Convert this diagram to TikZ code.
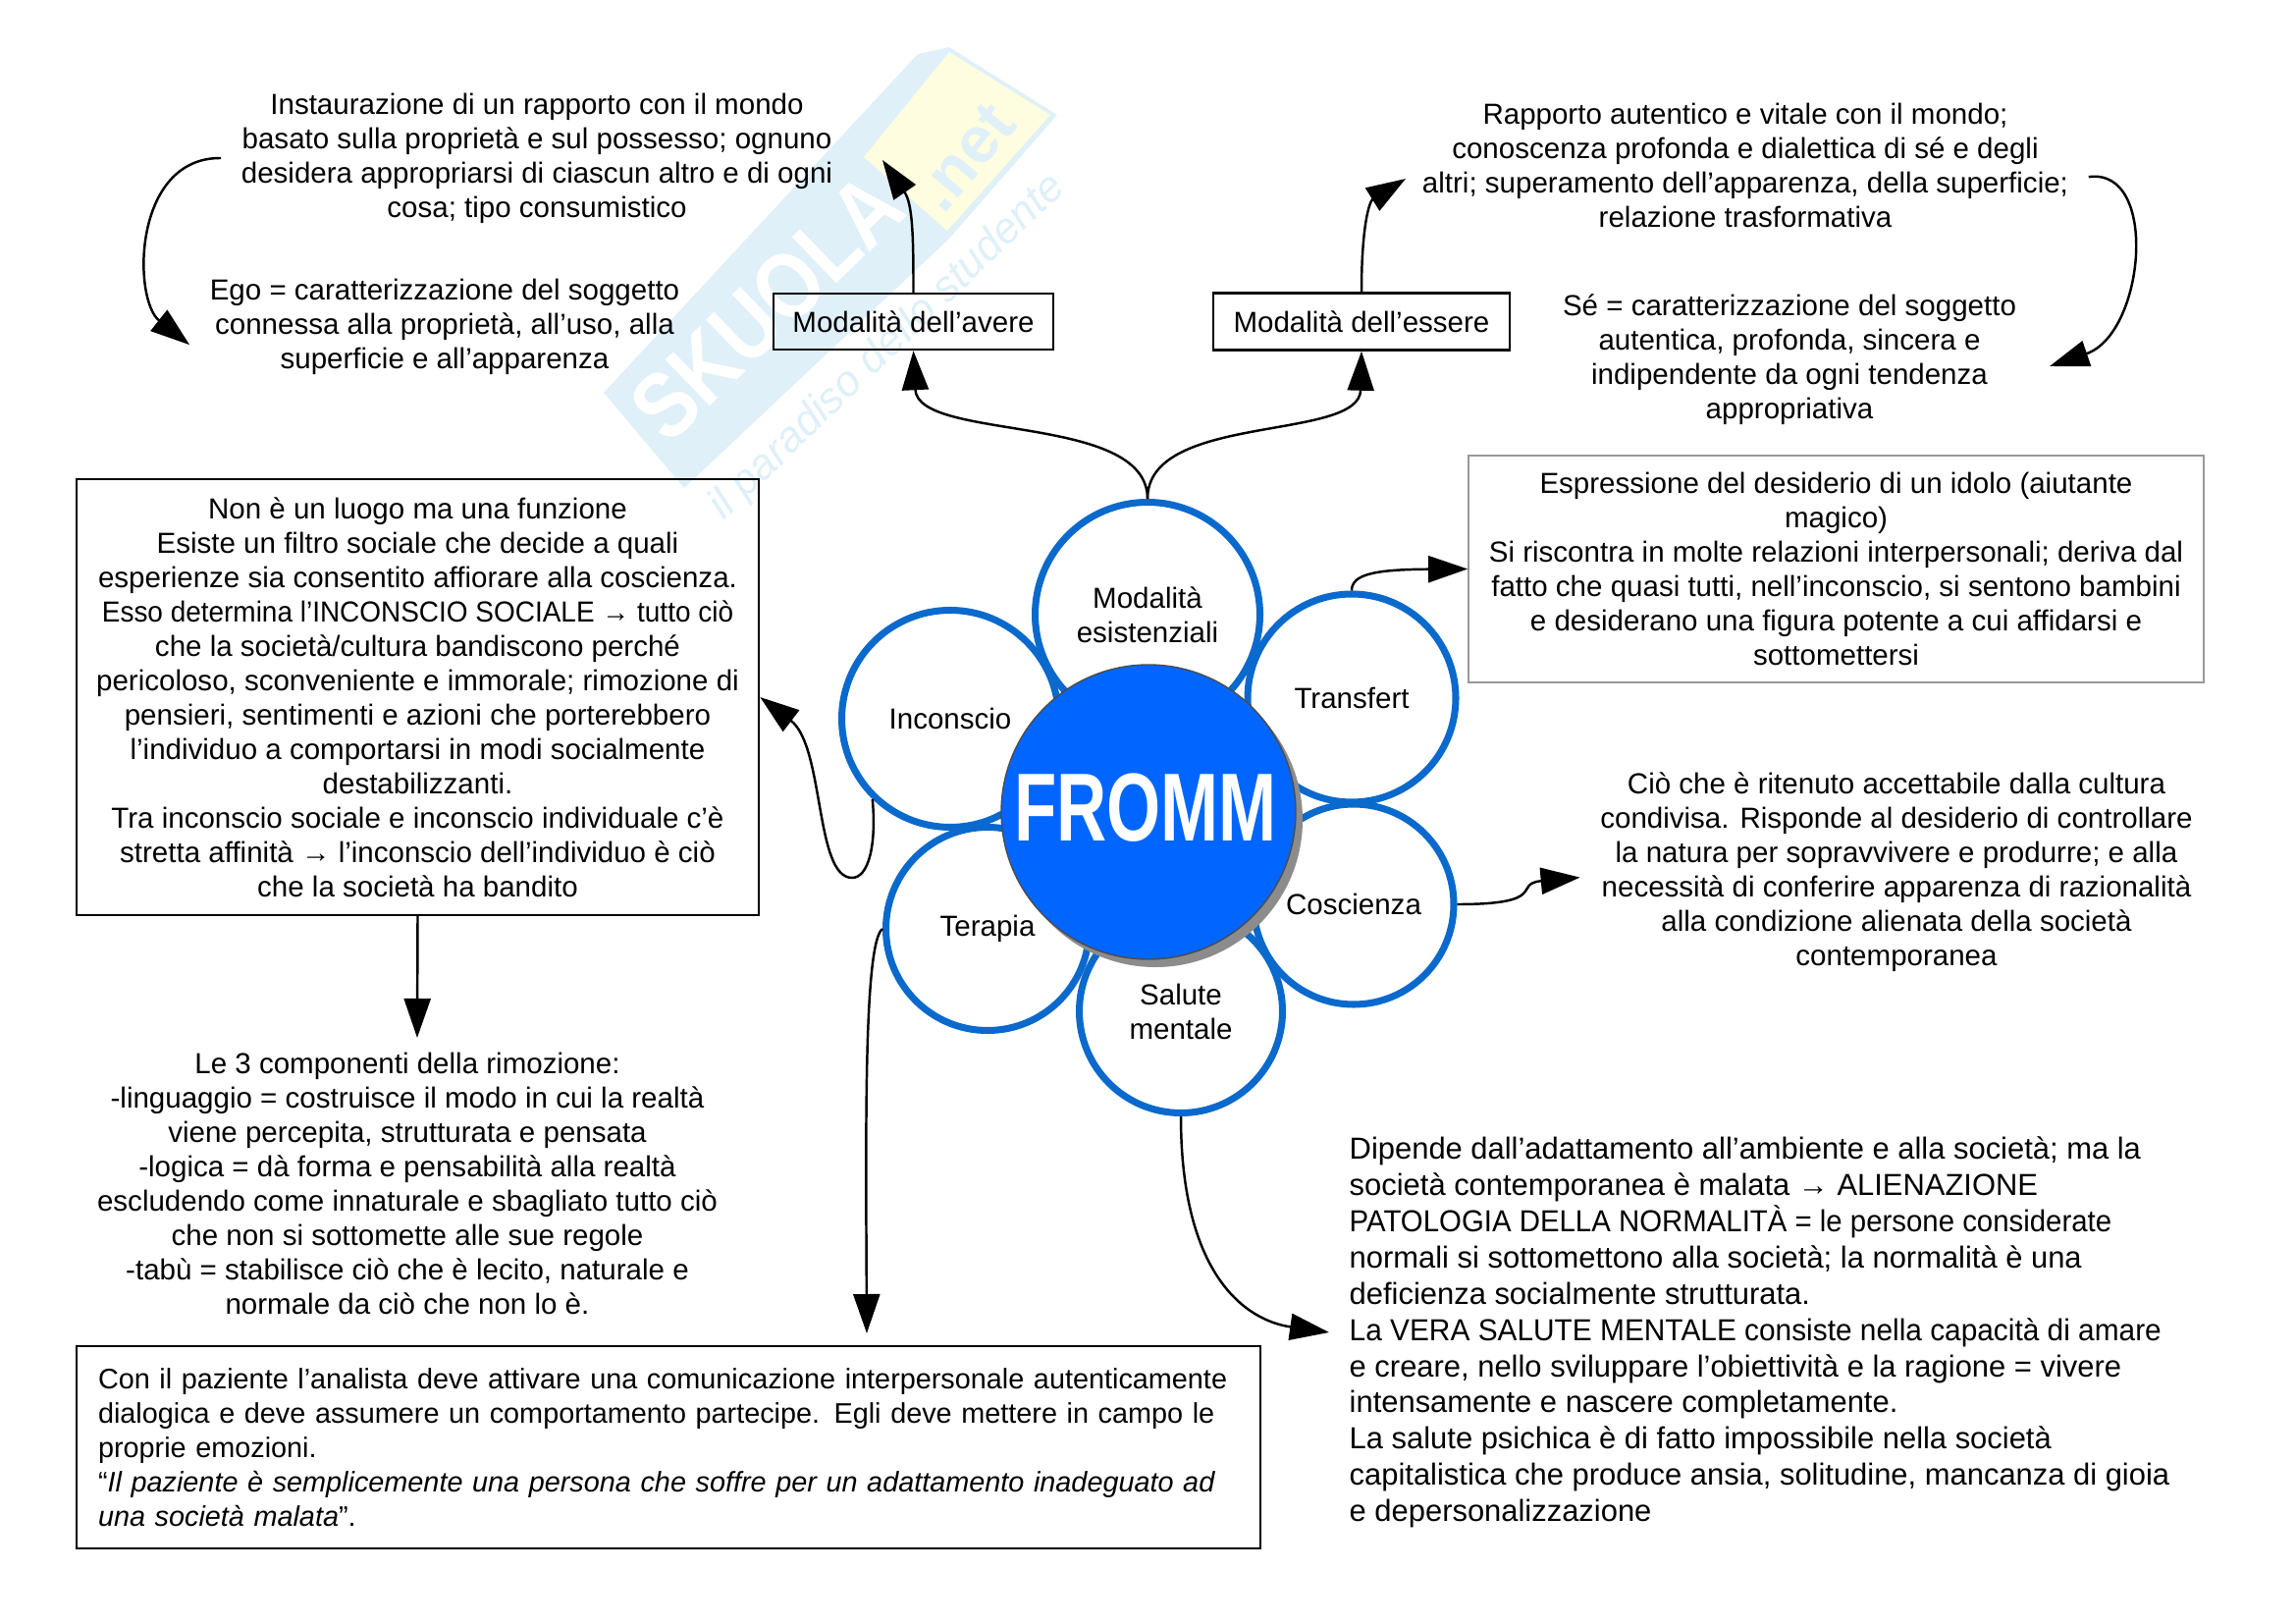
\documentclass[tikz,border=0pt]{standalone}
\usepackage{fontspec}
\setmainfont{Liberation Sans}
\usetikzlibrary{arrows.meta,shadows}
\definecolor{petalblue}{HTML}{0A69CC}
\definecolor{centerblue}{HTML}{0066FF}
\definecolor{markblue}{HTML}{DFF0F8}
\definecolor{markyellow}{HTML}{FEFDE0}

\begin{document}
\begin{tikzpicture}[
  petal/.style={draw=petalblue,fill=white,circle,line width=2pt,align=center,inner sep=0pt},
  fromm/.style={draw=black!70,fill=centerblue,circle,line width=.4pt,minimum size=3cm,inner sep=0pt,
    drop shadow={shadow xshift=.07cm,shadow yshift=-.08cm,fill=black!45,opacity=1}},
  note/.style={align=center,inner sep=2mm},
  notebox/.style={draw,line width=.7pt,align=center,inner sep=1mm},
  link/.style={-{Triangle[length=4mm,width=2.7mm]},line width=.7pt},
  every node/.append style={font=\fontsize{8.4}{9.96}\selectfont}
]
  \useasboundingbox (0,0) rectangle (23.39,16.53);
  \fill[markblue] (6.15,12.53) -- (9.35,15.98) -- (9.67,16.05) -- (10.77,15.36) -- (9.67,14.10) -- (6.97,11.56) -- cycle;
  \fill[markyellow] (8.80,14.93) -- (9.67,16.00) -- (10.70,15.36) -- (9.65,14.18) -- cycle;
  \node[white,rotate=44,font=\fontsize{27}{27}\bfseries\selectfont] (markname) at (7.81,13.40) {\scalebox{.85}[1]{SKUOLA}};
  \node[markblue,rotate=50,font=\fontsize{19}{19}\bfseries\selectfont] (markdomain) at (9.83,14.93) {.net};
  \node[markblue,rotate=44,font=\fontsize{12.5}{12.5}\itshape\selectfont] (marktag) at (9.04,12.99) {il paradiso dello studente};

  \node[petal,minimum size=2.21cm] (incon) at (9.68,9.21) {Inconscio};
  \node[petal,minimum size=2.07cm] (terapia) at (10.06,7.07) {Terapia};
  \node[petal,minimum size=2.29cm] (modal) at (11.69,10.27) {Modalità\\esistenziali};
  \node[petal,minimum size=2.04cm] (cosc) at (13.79,7.32) {Coscienza};
  \node[petal,minimum size=2.12cm] (transf) at (13.77,9.42) {Transfert};
  \node[petal,minimum size=2.07cm] (salute) at (12.03,6.23) {Salute\\mentale};
  \node[fromm] (center) at (11.70,8.26) {};
  \node[white,font=\fontsize{28}{28}\bfseries\selectfont] (title) at (11.67,8.30) {\scalebox{.72}[1]{FROMM}};

  \node[notebox,minimum width=2.85cm,minimum height=.57cm] (avere) at (9.305,13.255) {Modalità dell'avere};
  \node[notebox,minimum width=3.02cm,minimum height=.58cm] (essere) at (13.87,13.255) {Modalità dell'essere};

  \node[note] (possesso) at (5.47,14.92) {Instaurazione di un rapporto con il mondo\\basato sulla proprietà e sul possesso; ognuno\\desidera appropriarsi di ciascun altro e di ogni\\cosa; tipo consumistico};
  \node[note] (ego) at (4.53,13.20) {Ego = caratterizzazione del soggetto\\connessa alla proprietà, all'uso, alla\\superficie e all'apparenza};
  \node[note] (rapporto) at (17.78,14.85) {Rapporto autentico e vitale con il mondo;\\conoscenza profonda e dialettica di sé e degli\\altri; superamento dell'apparenza, della superficie;\\relazione trasformativa};
  \node[note] (se) at (18.23,12.87) {Sé = caratterizzazione del soggetto\\autentica, profonda, sincera e\\indipendente da ogni tendenza\\appropriativa};
  \node[notebox,minimum width=6.95cm,minimum height=4.44cm] (inconbox) at (4.255,9.43) {Non è un luogo ma una funzione\\Esiste un filtro sociale che decide a quali\\esperienze sia consentito affiorare alla coscienza.\\\scalebox{.947}[1]{Esso determina l'INCONSCIO SOCIALE → tutto ciò}\\che la società/cultura bandiscono perché\\pericoloso, sconveniente e immorale; rimozione di\\pensieri, sentimenti e azioni che porterebbero\\l'individuo a comportarsi in modi socialmente\\destabilizzanti.\\Tra inconscio sociale e inconscio individuale c'è\\stretta affinità → l'inconscio dell'individuo è ciò\\che la società ha bandito};
  \node[notebox,draw=black!40,line width=.5pt,minimum width=7.49cm,minimum height=2.31cm] (transfbox) at (18.705,10.735) {Espressione del desiderio di un idolo (aiutante\\magico)\\Si riscontra in molte relazioni interpersonali; deriva dal\\fatto che quasi tutti, nell'inconscio, si sentono bambini\\e desiderano una figura potente a cui affidarsi e\\sottomettersi};
  \node[note] (accetta) at (19.32,7.65) {Ciò che è ritenuto accettabile dalla cultura\\condivisa. Risponde al desiderio di controllare\\la natura per sopravvivere e produrre; e alla\\necessità di conferire apparenza di razionalità\\alla condizione alienata della società\\contemporanea};
  \node[note] (rimoz) at (4.15,4.48) {Le 3 componenti della rimozione:\\-linguaggio = costruisce il modo in cui la realtà\\viene percepita, strutturata e pensata\\-logica = dà forma e pensabilità alla realtà\\escludendo come innaturale e sbagliato tutto ciò\\che non si sottomette alle sue regole\\-tabù = stabilisce ciò che è lecito, naturale e\\normale da ciò che non lo è.};
  \node[notebox,align=left,inner xsep=2.2mm,text width=11.62cm,minimum height=2.06cm,font=\fontsize{8.2}{9.96}\selectfont] (terapiabox) at (6.81,1.79) {Con il paziente l'analista deve attivare una comunicazione interpersonale autenticamente\\dialogica e deve assumere un comportamento partecipe. Egli deve mettere in campo le\\proprie emozioni.\\“\textit{Il paziente è semplicemente una persona che soffre per un adattamento inadeguato ad}\\\textit{una società malata}".\par\vspace{1.6mm}};
  \node[note,align=left,anchor=west,font=\fontsize{8.8}{10.5}\selectfont] (normale) at (13.54,2.96) {Dipende dall'adattamento all'ambiente e alla società; ma la\\società contemporanea è malata → ALIENAZIONE\\\scalebox{.95}[1]{PATOLOGIA DELLA NORMALITÀ = le persone considerate}\\normali si sottomettono alla società; la normalità è una\\deficienza socialmente strutturata.\\\scalebox{.965}[1]{La VERA SALUTE MENTALE consiste nella capacità di amare}\\e creare, nello sviluppare l'obiettività e la ragione = vivere\\intensamente e nascere completamente.\\La salute psichica è di fatto impossibile nella società\\capitalistica che produce ansia, solitudine, mancanza di gioia\\e depersonalizzazione};

  \coordinate (averetip) at (8.99,14.90);
  \coordinate (esseretip) at (14.32,14.71);
  \coordinate (setip) at (20.88,12.80);
  \coordinate (rimoztip) at (4.25,5.96);
  \coordinate (terapiatip) at (8.83,2.95);

  \draw[link] (modal.north) .. controls (11.69,12.33) and (9.35,12.03) .. (avere.south);
  \draw[link] (modal.north) .. controls (11.69,12.33) and (13.85,12.03) .. (essere.south);
  \draw[link] (avere.north) .. controls (9.305,14.1) and (9.30,14.45) .. (averetip);
  \draw[link] (essere.north) .. controls (13.87,14.23) and (13.95,14.48) .. (esseretip);
  \draw[link] (possesso.west) .. controls (1.35,14.93) and (1.35,13.48) .. (ego.184);
  \draw[link] (rapporto.-2) .. controls (22.00,14.83) and (21.85,13.13) .. (setip);
  \draw[link] (transf.north) .. controls (13.77,10.68) and (14.0,10.73) .. (transfbox.west);
  \draw[link] (incon.226) .. controls (8.93,7.93) and (8.85,7.59) .. (8.68,7.59) .. controls (8.30,7.59) and (8.40,8.93) .. (inconbox.east);
  \draw[link] (inconbox.south) -- (rimoztip);
  \draw[link] (cosc.east) .. controls (15.80,7.32) and (15.40,7.53) .. (accetta.181);
  \draw[link] (terapia.west) .. controls (8.80,6.93) and (8.82,5.03) .. (terapiatip);
  \draw[link] (salute.south) .. controls (12.03,3.53) and (12.70,3.08) .. (normale.west);
\end{tikzpicture}
\end{document}
